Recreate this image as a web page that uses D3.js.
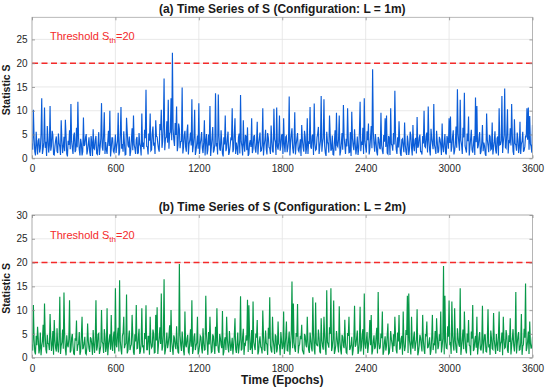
<!DOCTYPE html>
<html>
<head>
<meta charset="utf-8">
<script src="https://cdn.jsdelivr.net/npm/d3@7"></script>
<style>
  body { margin: 0; background: #fff; }
  text { font-family: "Liberation Sans", Arial, Helvetica, sans-serif; }
</style>
</head>
<body>
<div id="chartDiv"></div>
<script>
// values every 5 epochs:
// *On = epochs 0,10,20,...  *Off = epochs 5,15,25,...
var halfStep = 5;
var xTicks = [0, 600, 1200, 1800, 2400, 3000, 3600];
var yTicksA = [0, 5, 10, 15, 20, 25];
var yTicksB = [0, 5, 10, 15, 20, 25, 30];
var threshold = 20;

// (a) L = 1m
var seriesAOn = [
  3.1,10.2,1.4,5.6,0.8,4.2,2.1,12.6,1.9,10.7,3.5,6.8,1.2,11.0,2.6,4.9,0.7,3.8,1.5,5.2,
  2.4,8.0,1.1,4.5,8.1,0.9,3.7,5.9,11.4,2.2,4.8,1.3,6.4,11.9,1.8,4.1,0.6,8.6,2.9,5.1,
  1.7,4.4,0.5,3.2,6.1,1.9,4.7,0.8,5.5,2.3,11.6,1.6,9.7,3.4,0.9,5.8,10.0,2.0,4.3,1.2,
  5.0,2.6,9.6,1.3,10.8,3.0,5.7,0.7,8.5,2.8,4.6,1.5,6.3,9.0,2.1,4.0,0.9,5.3,2.5,9.4,
  3.3,6.0,14.4,2.4,5.2,9.4,1.8,6.7,3.1,8.0,4.5,2.0,7.2,10.2,3.6,16.8,4.2,7.8,12.3,5.1,
  12.6,22.2,3.9,7.4,10.9,2.7,6.2,3.5,14.9,2.3,5.8,1.4,7.1,3.0,5.4,12.4,2.6,10.2,1.6,4.8,
  11.6,2.9,5.5,1.1,8.0,3.7,0.8,5.0,11.0,2.4,6.6,1.7,13.7,3.2,13.4,2.0,5.9,1.0,4.4,9.0,
  2.2,5.6,1.3,4.1,10.5,1.9,8.4,3.3,0.7,5.2,13.3,2.5,8.0,1.4,4.6,6.5,0.9,3.8,8.4,2.0,
  4.9,1.2,7.7,3.0,5.4,1.6,10.5,2.7,6.0,0.8,4.3,2.1,6.9,1.5,10.4,3.4,10.7,1.8,9.0,2.6,
  5.1,8.4,1.3,4.7,2.2,13.0,3.1,6.3,1.0,9.7,2.8,5.3,1.4,4.0,7.0,2.3,5.8,0.9,8.4,3.6,
  10.8,2.0,5.0,11.5,1.7,4.4,6.6,2.5,13.1,3.2,12.4,1.1,5.6,2.9,9.0,1.6,4.8,0.7,5.9,9.6,
  2.4,9.0,1.5,5.3,11.2,2.8,4.1,10.5,1.2,5.5,9.8,2.6,6.1,0.8,4.6,2.0,11.9,3.5,6.4,12.6,
  2.3,5.7,7.3,1.9,6.8,18.7,2.9,5.1,1.3,4.5,2.2,9.6,1.6,4.9,8.4,9.0,0.9,4.2,10.5,2.7,
  5.3,14.2,1.8,4.4,7.8,1.0,3.9,2.4,7.5,1.3,4.8,0.7,5.6,2.1,7.0,1.5,4.3,8.7,2.6,5.0,
  1.4,4.7,10.0,2.3,5.4,10.9,1.7,6.2,3.0,11.4,2.0,5.8,1.1,4.5,2.7,7.3,1.3,5.1,0.8,4.0,
  8.4,8.8,2.5,5.9,1.6,6.7,14.5,3.2,12.3,2.8,6.4,13.8,1.9,5.2,8.8,2.4,6.0,1.2,4.7,12.8,
  11.0,2.6,5.5,1.4,7.0,3.3,0.9,9.4,2.7,4.9,1.8,7.5,2.2,5.7,1.0,4.6,10.5,2.9,13.1,3.4,
  14.7,2.1,10.3,3.6,6.3,11.4,1.5,8.2,2.8,5.4,1.1,7.7,3.0,5.6,1.7,4.8,10.5,10.7,8.9,2.5,
  7.0
];
var seriesAOff = [
  1.8,4.3,0.6,2.9,3.7,1.2,5.1,0.9,3.4,2.2,0.5,4.0,2.7,1.6,5.8,0.8,2.5,4.6,1.1,3.2,
  0.7,3.9,2.4,1.5,4.8,0.4,2.8,1.9,3.6,0.9,5.4,1.7,2.3,4.2,0.6,3.1,1.4,2.6,4.4,0.8,
  3.0,1.3,4.7,0.5,2.1,3.8,1.0,2.9,0.7,4.1,2.4,5.0,0.9,1.8,3.5,2.6,0.4,4.3,1.5,2.7,
  1.1,3.6,0.6,4.9,2.0,1.4,3.2,0.8,5.6,2.3,0.5,3.9,1.7,2.8,0.9,4.5,1.2,3.0,0.6,2.4,
  1.9,4.2,2.5,0.8,3.7,1.6,5.2,2.9,0.9,4.6,3.1,1.4,5.9,2.2,6.8,1.7,4.4,3.3,2.0,5.5,
  3.8,6.2,2.6,4.9,1.5,7.3,2.1,3.6,1.0,4.8,2.4,5.7,0.8,3.9,2.7,1.3,4.5,0.7,3.1,2.0,
  0.9,4.0,2.2,3.4,0.6,5.1,1.8,2.7,0.5,4.3,1.2,3.0,2.5,0.8,4.7,1.6,3.3,0.4,2.9,1.5,
  4.1,0.7,2.6,3.8,1.3,5.0,0.9,2.2,4.4,1.0,3.5,0.6,2.8,4.9,1.7,0.5,3.1,2.4,1.1,4.6,
  2.0,3.3,0.8,4.2,1.5,2.7,0.6,3.9,1.9,5.3,2.3,0.9,3.6,1.2,4.0,0.7,2.5,3.4,1.6,4.8,
  0.9,2.9,4.5,1.3,3.7,0.6,5.0,2.1,3.2,0.8,4.1,1.7,2.6,0.5,3.8,1.4,4.6,2.2,0.9,3.0,
  2.4,4.7,0.7,3.1,1.9,5.2,0.9,3.7,1.4,4.3,2.6,0.5,3.5,1.2,4.9,2.0,0.8,3.3,1.6,2.7,
  4.0,0.6,3.2,1.8,4.6,0.9,2.5,3.9,1.3,0.5,4.2,1.7,3.0,2.3,0.7,5.4,1.5,2.8,0.9,3.6,
  1.2,3.8,0.8,4.4,2.1,5.6,1.4,3.3,0.6,4.0,1.9,2.7,0.9,3.5,2.4,1.1,4.7,0.7,3.0,1.6,
  2.9,4.5,0.9,2.3,3.6,0.5,4.1,1.3,2.8,0.7,3.4,1.8,4.8,0.6,2.6,3.9,1.0,2.2,4.3,1.4,
  0.8,3.1,2.5,4.6,1.2,3.7,0.6,4.2,1.9,2.8,0.9,3.5,1.5,4.0,0.7,2.4,3.3,1.1,4.7,2.0,
  3.2,1.4,4.5,0.8,3.0,2.2,5.1,1.6,3.8,0.9,4.4,2.6,1.2,3.6,0.6,4.1,1.8,2.9,0.7,3.4,
  2.1,4.3,0.9,3.3,1.5,2.6,0.5,3.9,1.3,4.6,2.0,0.8,3.5,1.7,4.2,0.6,2.8,3.7,1.1,4.9,
  2.3,5.2,1.0,3.4,2.7,4.8,0.7,3.1,1.6,4.0,2.2,0.9,3.6,1.4,2.5,4.4,3.9,1.8,3.0,1.2
];

// (b) L = 2m
var seriesBOn = [
  2.8,11.1,1.2,4.6,6.5,0.9,5.3,2.4,6.9,11.4,1.7,4.8,2.9,9.2,1.4,5.6,7.9,2.0,6.2,1.1,
  12.8,2.5,5.9,13.7,1.8,4.7,2.2,12.1,1.5,5.0,0.8,4.1,7.8,2.6,5.4,1.3,8.6,2.1,4.4,0.7,
  7.2,1.9,4.3,2.7,5.8,1.0,12.1,2.3,5.1,1.6,10.0,2.9,6.0,1.2,10.4,2.5,4.9,9.0,1.4,5.5,
  14.6,2.2,6.3,16.3,1.8,4.6,8.6,2.7,13.3,1.5,5.7,2.4,9.0,1.1,4.9,11.1,2.0,6.1,1.3,10.4,
  2.6,5.2,11.0,1.7,4.5,8.6,2.1,5.9,1.0,9.0,10.6,2.8,6.4,13.5,2.3,16.5,1.6,5.3,2.9,6.8,
  10.0,1.9,4.7,2.4,6.6,1.2,19.7,2.6,5.5,1.4,9.7,2.2,4.8,0.9,6.0,12.1,1.7,5.1,2.5,8.6,
  1.3,4.6,2.0,6.2,1.6,13.0,2.8,5.4,8.6,1.1,4.9,2.3,6.5,10.4,1.5,5.0,2.7,9.8,1.2,4.3,
  8.6,2.1,5.6,1.4,4.2,2.6,8.3,1.0,5.3,2.2,12.9,1.8,6.1,2.9,4.7,12.2,11.0,1.6,5.8,11.8,
  2.4,5.1,7.9,1.3,4.5,2.0,9.9,1.7,5.7,2.8,6.3,12.7,1.5,8.6,2.3,4.9,1.1,7.6,2.6,5.4,
  1.8,9.7,2.2,7.6,1.4,5.5,2.9,16.0,11.4,1.9,5.2,11.3,2.4,4.6,6.9,1.2,5.0,2.7,8.6,1.6,
  5.3,2.1,12.7,1.8,11.6,2.6,5.9,1.3,8.3,2.4,8.6,1.9,14.2,2.8,6.4,14.6,2.2,12.0,1.5,5.6,
  2.3,10.8,1.7,4.8,2.5,8.0,1.1,5.2,8.6,2.0,4.4,1.6,10.9,2.7,5.7,1.4,10.7,2.3,6.0,13.5,
  1.9,5.4,2.6,7.9,9.0,1.5,4.7,2.2,6.3,13.8,1.8,5.1,9.7,1.3,4.5,2.4,7.2,1.0,5.6,2.8,
  4.9,8.6,1.6,5.3,9.0,2.1,4.6,9.7,1.4,5.8,13.0,13.5,2.5,8.6,1.9,5.5,2.8,10.2,1.2,4.8,
  2.6,9.0,1.7,5.0,7.6,2.2,4.3,1.5,9.0,2.9,5.6,8.3,1.8,4.9,9.7,2.4,19.3,13.0,2.0,6.6,
  12.0,3.1,11.8,2.5,10.4,1.9,6.2,2.8,14.6,2.2,5.9,9.7,1.6,5.1,7.9,2.4,5.5,11.1,1.8,4.6,
  8.6,2.3,5.4,1.5,10.9,2.7,4.8,1.2,10.2,2.6,5.7,1.9,9.4,2.2,5.0,1.4,9.7,2.9,5.3,8.6,
  2.0,5.8,1.6,4.7,8.3,2.5,6.0,1.3,13.8,2.8,5.4,1.7,9.2,2.4,6.1,15.6,2.1,5.5,7.6,1.9,
  4.4
];
var seriesBOff = [
  1.5,3.8,0.7,2.6,4.1,1.9,0.5,3.4,2.2,4.7,0.9,3.0,1.6,4.4,2.8,0.6,3.7,1.3,2.5,4.0,
  0.8,3.3,1.9,4.6,0.5,2.7,3.9,1.1,4.2,2.4,0.7,3.6,1.4,2.9,0.6,4.5,1.8,3.1,0.9,2.3,
  3.5,1.2,4.0,0.6,2.8,3.7,1.5,4.9,0.8,2.5,3.3,1.0,4.4,2.1,0.5,3.8,1.7,2.6,4.3,0.9,
  2.7,4.8,1.3,3.5,0.7,5.2,2.0,3.0,0.9,4.1,1.6,2.8,4.6,0.6,3.4,1.9,4.3,0.8,3.0,2.2,
  0.9,3.9,1.7,4.5,0.6,3.2,2.4,5.0,1.1,3.6,0.8,4.2,2.9,1.5,4.8,0.7,3.3,2.0,4.6,1.2,
  3.4,0.6,4.1,1.8,2.9,0.9,4.7,1.4,3.5,0.5,2.7,4.0,1.2,3.6,2.3,0.8,4.4,1.6,3.1,0.7,
  2.5,4.3,0.9,3.2,1.7,4.9,0.6,2.8,3.8,1.3,4.5,0.8,2.4,3.5,1.0,4.1,2.0,0.5,3.7,1.6,
  4.0,1.1,3.4,2.6,0.7,4.6,1.8,3.0,0.9,3.9,1.5,4.4,0.6,2.7,3.6,1.2,4.8,2.1,0.8,3.3,
  1.6,4.2,0.7,3.5,2.3,0.9,4.7,1.4,3.1,0.6,4.0,2.6,1.1,3.8,0.8,4.5,1.9,2.9,0.5,3.6,
  2.4,0.8,4.3,1.5,3.7,0.6,5.1,2.0,3.2,1.2,4.4,0.9,2.8,3.9,1.6,0.7,4.6,2.2,3.4,1.0,
  3.8,1.3,4.9,0.7,3.0,2.5,4.2,0.9,3.6,1.7,4.7,0.6,3.3,2.1,5.0,1.4,3.9,0.8,2.6,4.1,
  1.1,3.5,0.7,4.4,2.0,3.1,0.9,4.6,1.6,2.8,0.5,3.9,2.3,4.2,0.8,3.4,1.3,4.8,0.6,2.9,
  3.7,1.0,4.3,2.6,0.7,3.5,1.8,4.5,0.9,3.0,2.2,4.1,0.6,3.3,1.5,4.7,0.8,2.7,3.9,1.2,
  2.4,4.6,0.9,3.4,1.7,4.0,0.6,3.1,2.3,4.8,1.0,3.6,0.7,2.9,4.3,1.4,3.8,0.5,2.6,4.2,
  1.3,3.7,0.8,4.5,2.1,3.2,0.6,4.1,1.6,2.8,0.9,4.6,2.5,3.5,1.1,4.0,0.7,3.3,1.9,4.4,
  2.9,0.8,4.7,1.5,3.6,1.0,4.2,2.3,0.6,3.9,1.8,4.5,0.9,3.2,2.6,0.5,4.0,1.4,3.7,2.1,
  0.7,4.3,1.9,3.0,0.9,4.8,1.3,3.5,2.4,0.6,4.1,1.7,3.8,0.8,2.9,4.4,1.2,3.4,0.5,3.9,
  2.2,4.6,1.0,3.3,0.7,4.0,2.5,3.7,0.9,4.5,1.6,3.1,0.6,2.8,4.2,1.4,3.6,0.8,3.0,2.3
];

// put the on-grid and off-grid readings back in time order
function weave(on, off) {
  var out = [];
  for (var i = 0; i < on.length; i++) {
    out.push(on[i]);
    if (i < off.length) { out.push(off[i]); }
  }
  return out;
}

var panels = [
  { title: '(a) Time Series of S (Configuration: L = 1m)', values: weave(seriesAOn, seriesAOff),
    color: '#0b5dd8', top: 17.3, bottom: 158.3, yMax: 29.65, yTicks: yTicksA },
  { title: '(b) Time Series of S (Configuration: L = 2m)', values: weave(seriesBOn, seriesBOff),
    color: '#079848', top: 215, bottom: 357.7, yMax: 30, yTicks: yTicksB }
];

var w = 550, h = 391,
  left = 32, right = 532.5;

var svg = d3.select('#chartDiv').append('svg')
  .attr('width', w)
  .attr('height', h);

var xScale = d3.scaleLinear().domain([0, 3600]).range([left, right]);

panels.forEach(function(p, k) {
  var yScale = d3.scaleLinear().domain([0, p.yMax]).range([p.bottom, p.top]);
  var g = svg.append('g');

  // grid
  g.selectAll('.vgrid').data(xTicks).enter().append('line')
    .attr('x1', function(d) { return xScale(d); })
    .attr('x2', function(d) { return xScale(d); })
    .attr('y1', p.top).attr('y2', p.bottom)
    .attr('stroke', '#e3e3e3').attr('stroke-width', 0.8);
  g.selectAll('.hgrid').data(p.yTicks).enter().append('line')
    .attr('x1', left).attr('x2', right)
    .attr('y1', function(d) { return yScale(d); })
    .attr('y2', function(d) { return yScale(d); })
    .attr('stroke', '#e3e3e3').attr('stroke-width', 0.8);

  // the statistic
  var clipId = 'clip' + k;
  svg.append('clipPath').attr('id', clipId).append('rect')
    .attr('x', left).attr('y', p.top)
    .attr('width', right - left).attr('height', p.bottom - p.top);

  var line = d3.line()
    .x(function(d, i) { return xScale(i * halfStep); })
    .y(function(d) { return yScale(d); });

  g.append('path')
    .datum(p.values)
    .attr('clip-path', 'url(#' + clipId + ')')
    .attr('fill', 'none')
    .attr('stroke', p.color)
    .attr('stroke-width', 1.15)
    .attr('d', line);

  // threshold
  g.append('line')
    .attr('x1', left).attr('x2', right)
    .attr('y1', yScale(threshold)).attr('y2', yScale(threshold))
    .attr('stroke', '#f42a2a').attr('stroke-width', 1.5)
    .attr('stroke-dasharray', '6,3.5');

  var thr = g.append('text')
    .attr('x', 50).attr('y', yScale(threshold) - 23.5)
    .attr('fill', '#f42a2a').attr('font-size', 11);
  thr.append('tspan').text('Threshold S');
  thr.append('tspan').attr('font-size', 8).attr('dy', 3).text('th');
  thr.append('tspan').attr('dy', -3).text('=20');

  // frame
  g.append('rect')
    .attr('x', left).attr('y', p.top)
    .attr('width', right - left).attr('height', p.bottom - p.top)
    .attr('fill', 'none').attr('stroke', '#a8a8a8').attr('stroke-width', 0.8);

  // axes
  var xAxis = d3.axisBottom(xScale).tickValues(xTicks).tickFormat(d3.format('d'))
    .tickSizeInner(-3).tickSizeOuter(0).tickPadding(7);
  var gx = g.append('g')
    .attr('transform', 'translate(0,' + p.bottom + ')')
    .call(xAxis);
  var yAxis = d3.axisLeft(yScale).tickValues(p.yTicks)
    .tickSizeInner(-3).tickSizeOuter(0).tickPadding(4.5);
  var gy = g.append('g')
    .attr('transform', 'translate(' + left + ',0)')
    .call(yAxis);
  var gr = g.append('g')
    .attr('transform', 'translate(' + right + ',0)')
    .call(d3.axisLeft(yScale).tickValues(p.yTicks).tickSize(3).tickFormat(''));
  var gt = g.append('g')
    .attr('transform', 'translate(0,' + p.top + ')')
    .call(d3.axisBottom(xScale).tickValues(xTicks).tickSize(3).tickFormat(''));

  [gx, gy, gr, gt].forEach(function(a) {
    a.select('.domain').remove();
    a.selectAll('line').attr('stroke', '#8c8c8c').attr('stroke-width', 0.8);
    a.selectAll('text').attr('fill', '#262626').attr('font-size', 10)
      .style('font-family', '"Liberation Sans", Arial, sans-serif');
  });

  // titles
  g.append('text')
    .attr('x', (left + right) / 2).attr('y', p.top - 4.5)
    .attr('text-anchor', 'middle')
    .attr('font-size', 12).attr('font-weight', 'bold').attr('fill', '#1a1a1a')
    .text(p.title);

  g.append('text')
    .attr('transform', 'translate(10,' + ((p.top + p.bottom) / 2 + 2) + ') rotate(-90)')
    .attr('text-anchor', 'middle')
    .attr('font-size', 10.5).attr('font-weight', 'bold').attr('fill', '#1a1a1a')
    .text('Statistic S');
});

svg.append('text')
  .attr('x', (left + right) / 2).attr('y', 384)
  .attr('text-anchor', 'middle')
  .attr('font-size', 12).attr('font-weight', 'bold').attr('fill', '#1a1a1a')
  .text('Time (Epochs)');
</script>
</body>
</html>
